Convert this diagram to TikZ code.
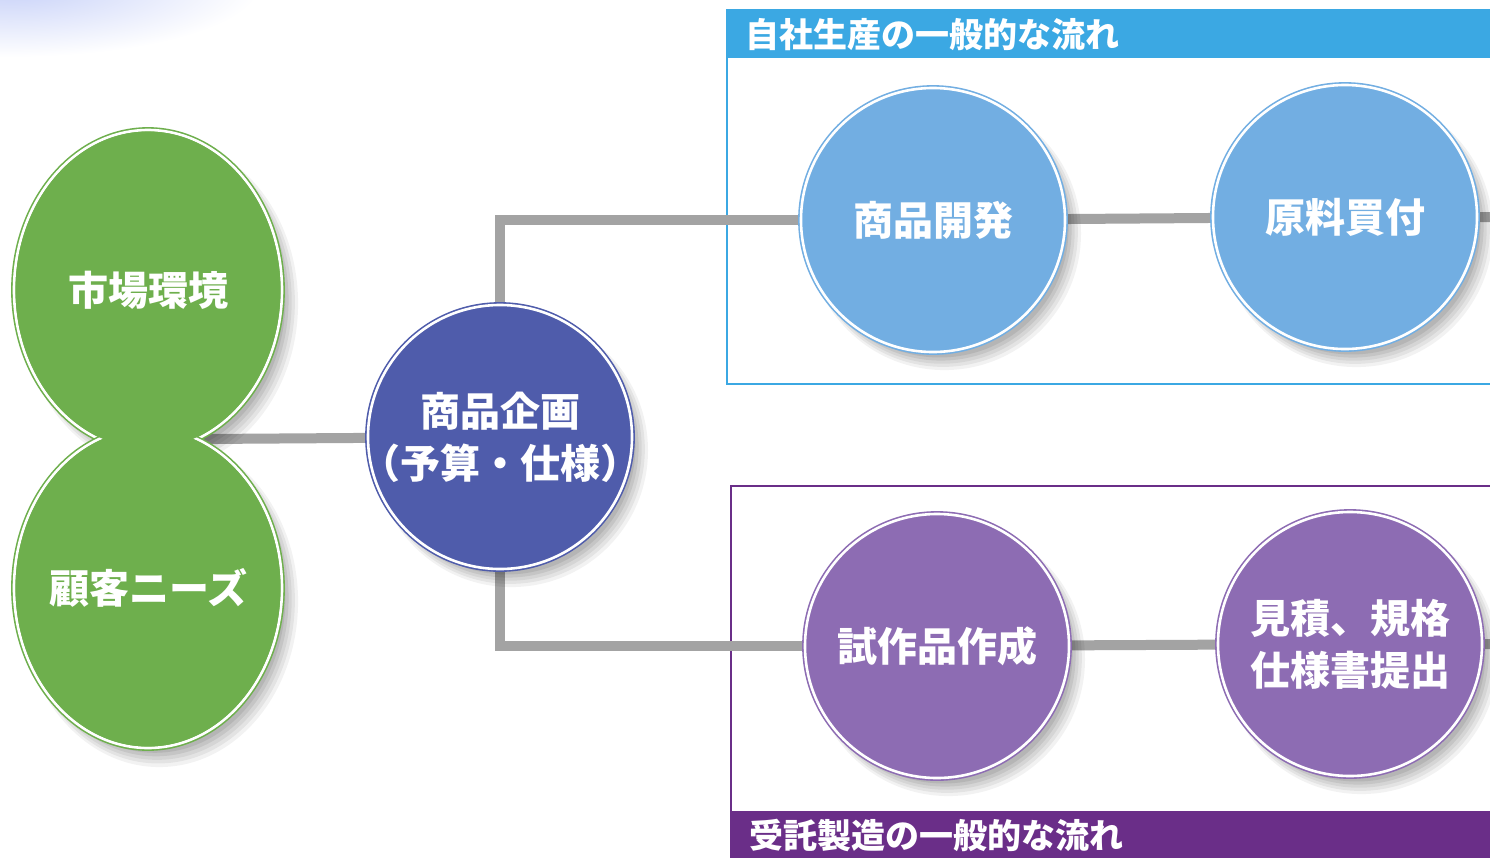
\documentclass[tikz,border=0pt]{standalone}
\usepackage{fontspec}
\newfontfamily\cjk{Noto Sans CJK JP}
\usetikzlibrary{shapes.geometric,shadows}
\definecolor{grn}{HTML}{6EAF4D}
\definecolor{navy}{HTML}{4F5CAB}
\definecolor{sky}{HTML}{72AEE2}
\definecolor{vio}{HTML}{8D6CB3}
\definecolor{hblue}{HTML}{3BA8E3}
\definecolor{hpurp}{HTML}{6A2E88}
\definecolor{conn}{HTML}{A3A3A3}
\definecolor{glow}{HTML}{C6D0F8}
\tikzset{
  softshadow/.style={
    general shadow={fill=black, opacity=0.05, shadow xshift=11pt, shadow yshift=-13pt, shadow scale=1.035},
    general shadow={fill=black, opacity=0.06, shadow xshift=10pt, shadow yshift=-12pt, shadow scale=1.02},
    general shadow={fill=black, opacity=0.06, shadow xshift=9pt, shadow yshift=-11pt, shadow scale=1.005},
    general shadow={fill=black, opacity=0.07, shadow xshift=8pt, shadow yshift=-10pt, shadow scale=0.99},
    general shadow={fill=black, opacity=0.08, shadow xshift=7pt, shadow yshift=-9pt, shadow scale=0.975}},
  ring/.style={draw=#1, line width=1.6pt, double=white, double distance=2.6pt},
  bubble/.style={circle, minimum size=264pt, inner sep=0pt, fill=#1, ring=#1,
    text=white, align=center, font=\cjk\bfseries\fontsize{40}{52}\selectfont, softshadow},
  blobtext/.style={ellipse, minimum width=268pt, minimum height=320pt, inner sep=0pt,
    text=white, align=center, font=\cjk\bfseries\fontsize{40}{52}\selectfont},
  connector/.style={draw=conn, line width=10pt},
  header/.style={anchor=west, text=white, inner sep=0pt, font=\cjk\bfseries\fontsize{34}{40}\selectfont},
}
\begin{document}
\begin{tikzpicture}[x=1pt,y=-1pt]
\clip (0,0) rectangle (1490,857);
\fill[white] (0,0) rectangle (1490,857);
% glow top-left
\shade[inner color=glow, outer color=white] (10,-15) ellipse (250 and 72);
% frames
\draw[hblue, line width=2pt] (727,10) rectangle (1520,384);
\fill[hblue] (727,10) rectangle (1520,58);
\node[header] (h1) at (745,35) {自社生産の一般的な流れ};
\draw[hpurp, line width=2pt] (731,486) rectangle (1520,880);
\fill[hpurp] (731,811) rectangle (1520,880);
\node[header] (h2) at (749,835) {受託製造の一般的な流れ};
% node positions
\coordinate (gj) at (204,439);
\coordinate (e1) at (1495,217);
\coordinate (e2) at (1495,644);
\path (148,290) coordinate (g1) (148,588) coordinate (g2)
      (500,437) coordinate (pc) (933,220) coordinate (dc) (1345,217) coordinate (bc)
      (937,646) coordinate (tc) (1350,644) coordinate (qc);
% connectors
\draw[connector] (pc) -- (gj);
\draw[connector] (pc) |- (dc);
\draw[connector] (dc) -- (bc) -- (e1);
\draw[connector] (pc) |- (tc);
\draw[connector] (tc) -- (qc) -- (e2);
% green figure-eight: shadows, outlines, then merged fill
\path[fill=grn, softshadow] (g1) ellipse (134 and 160);
\path[fill=grn, softshadow] (g2) ellipse (134 and 160);
\draw[ring=grn] (g1) ellipse (134 and 160);
\draw[ring=grn] (g2) ellipse (134 and 160);
\fill[grn] (g1) ellipse (132.3 and 158.3);
\fill[grn] (g2) ellipse (132.3 and 158.3);
% nodes
\node[blobtext] (m1) at (g1) {市場環境};
\node[blobtext] (m2) at (g2) {顧客ニーズ};
\node[bubble=navy, inner sep=-17pt] (plan) at (pc) {商品企画\\（予算・仕様）};
\node[bubble=sky] (dev) at (dc) {商品開発};
\node[bubble=sky] (buy) at (bc) {原料買付};
\node[bubble=vio] (proto) at (tc) {試作品作成};
\node[bubble=vio] (quote) at (qc) {見積、規格\\仕様書提出};
\end{tikzpicture}
\end{document}
